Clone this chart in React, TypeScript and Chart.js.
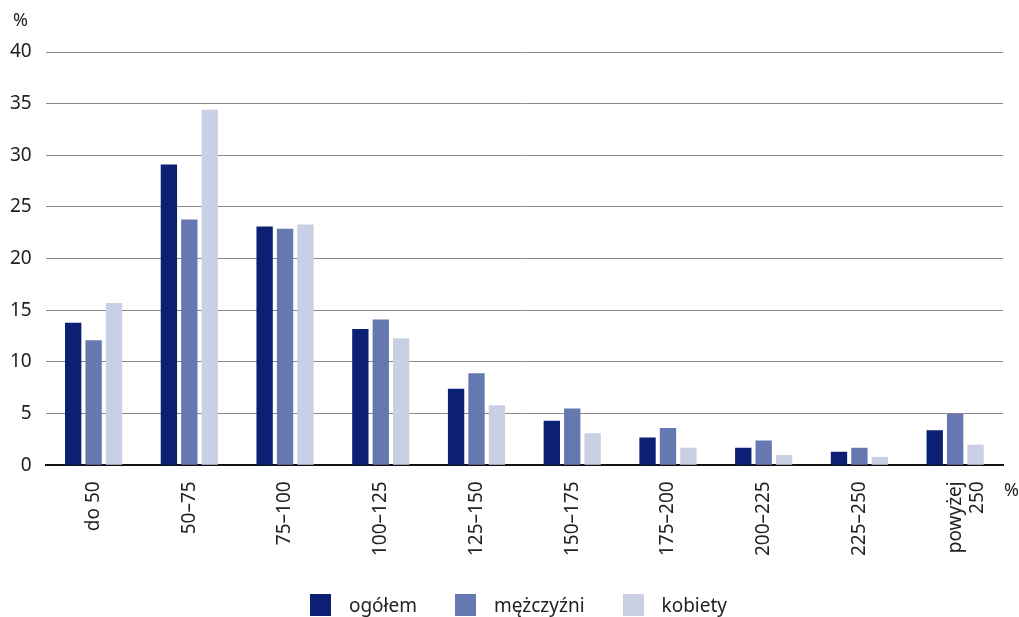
import React, { useEffect, useRef } from "react";
import { Chart, registerables } from "chart.js";

Chart.register(...registerables);

const categories: (string | string[])[] = [
  "do 50",
  "50–75",
  "75–100",
  "100–125",
  "125–150",
  "150–175",
  "175–200",
  "200–225",
  "225–250",
  ["powyżej", "250"],
];
const ogolem = [13.8, 29.1, 23.1, 13.2, 7.4, 4.3, 2.7, 1.7, 1.3, 3.4];
const mezczyzni = [12.1, 23.8, 22.9, 14.1, 8.9, 5.5, 3.6, 2.4, 1.7, 5.0];
const kobiety = [15.7, 34.4, 23.3, 12.3, 5.8, 3.1, 1.7, 1.0, 0.8, 2.0];
const seriesNames = ["ogółem", "mężczyźni", "kobiety"];
const colors = ["#0b1f73", "#6678b0", "#c9d0e4"];

const FONT = "'Noto Sans', 'Open Sans', sans-serif";

const unitPlugin = {
  id: "unitLabels",
  afterDraw(chart: any) {
    const { ctx, chartArea } = chart;
    ctx.save();
    ctx.fillStyle = "#222";
    ctx.font = `18px ${FONT}`;
    ctx.textBaseline = "middle";
    ctx.textAlign = "left";
    ctx.fillText("%", 17, chartArea.top - 31);
    ctx.fillText("%", chartArea.right + 1, chartArea.bottom + 26);
    ctx.restore();
  },
};

export default function App() {
  const ref = useRef<HTMLCanvasElement>(null);
  useEffect(() => {
    if (!ref.current) return;
    const chart = new Chart(ref.current, {
      type: "bar",
      data: {
        labels: categories,
        datasets: [ogolem, mezczyzni, kobiety].map((d, i) => ({
          label: seriesNames[i],
          data: d,
          backgroundColor: colors[i],
          borderWidth: 0,
          barPercentage: 0.8,
          categoryPercentage: 0.64,
        })),
      },
      options: {
        animation: false,
        responsive: false,
        devicePixelRatio: 1,
        layout: { padding: { top: 52, right: 16, left: 0, bottom: 45 } },
        plugins: {
          legend: { display: false },
          tooltip: { enabled: false },
          title: { display: false },
        },
        scales: {
          x: {
            grid: { display: false, drawTicks: false },
            border: { display: true, color: "#111", width: 2 },
            ticks: {
              maxRotation: 90,
              minRotation: 90,
              padding: 16,
              color: "#222",
              font: { family: FONT, size: 19 },
            },
          },
          y: {
            min: 0,
            max: 40,
            grid: {
              color: "#8a8a8a",
              lineWidth: 1,
              drawTicks: false,
            },
            border: { display: false },
            ticks: {
              stepSize: 5,
              padding: 14,
              color: "#222",
              font: { family: FONT, size: 19 },
            },
          },
        },
      },
      plugins: [unitPlugin],
    });
    return () => chart.destroy();
  }, []);
  return (
    <div style={{ position: "fixed", left: 0, top: 0, width: 1019, height: 617, background: "#fff", overflow: "hidden" }}>
      <canvas
        ref={ref}
        width={1023}
        height={617}
        style={{ display: "block", position: "absolute", left: -4, top: 0 }}
      />
      <div
        style={{
          position: "absolute",
          left: 0,
          top: 594,
          width: 1019,
          display: "flex",
          justifyContent: "center",
          alignItems: "center",
          fontFamily: FONT,
          fontSize: 19,
          color: "#222",
          paddingLeft: 18,
          boxSizing: "border-box",
        }}
      >
        {seriesNames.map((n, i) => (
          <div key={n} style={{ display: "flex", alignItems: "center", marginRight: i < seriesNames.length - 1 ? 38 : 0 }}>
            <span style={{ display: "inline-block", width: 21, height: 22, background: colors[i], marginRight: 18 }} />
            <span style={{ lineHeight: "22px" }}>{n}</span>
          </div>
        ))}
      </div>
    </div>
  );
}
